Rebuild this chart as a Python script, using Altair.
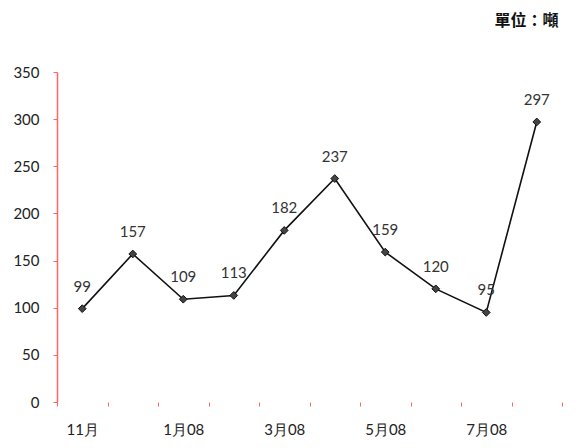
import altair as alt
import pandas as pd

months = ["11月", "12月", "1月08", "2月08", "3月08", "4月08", "5月08", "6月08", "7月08", "8月08"]
values = [99, 157, 109, 113, 182, 237, 159, 120, 95, 297]
shown_labels = ["11月", "1月08", "3月08", "5月08", "7月08"]

df = pd.DataFrame({"month": months, "value": values})

x_enc = alt.X(
    "month:N",
    sort=months,
    scale=alt.Scale(paddingInner=0, paddingOuter=0),
    axis=alt.Axis(
        title=None,
        labelAngle=0,
        tickBand="extent",
        domain=False,
        ticks=True,
        tickColor="#ff6666",
        tickSize=4,
        labelPadding=16,
        labelFont="Lato",
        labelFontSize=15,
        labelColor="#222222",
        labelExpr="indexof(" + str(shown_labels).replace("'", '"') + ", datum.label) >= 0 ? datum.label : ''",
    ),
)
y_enc = alt.Y(
    "value:Q",
    scale=alt.Scale(domain=[0, 350]),
    axis=alt.Axis(
        title=None,
        values=[0, 50, 100, 150, 200, 250, 300, 350],
        grid=False,
        domainColor="#ff6666",
        domainWidth=1.5,
        tickColor="#ff6666",
        tickSize=4,
        labelPadding=14,
        labelFont="Lato",
        labelFontSize=15,
        labelColor="#222222",
    ),
)

base = alt.Chart(df).encode(x=x_enc, y=y_enc)

line = base.mark_line(color="#111111", strokeWidth=1.6)
points = base.mark_point(shape="diamond", filled=True, size=60, color="#444444",
                         stroke="#111111", strokeWidth=1, opacity=1)
labels = base.mark_text(dy=-22, font="Lato", fontSize=15, color="#333333").encode(text="value:Q")

chart = (
    alt.layer(line, points, labels)
    .properties(
        width=505,
        height=330,
        autosize=alt.AutoSizeParams(type="none"),
        padding={"left": 49, "top": 64, "right": 14, "bottom": 36},
        title=alt.TitleParams(
            "單位：噸",
            anchor="end",
            font="Noto Sans CJK TC",
            fontSize=16,
            fontWeight="bold",
            color="#111111",
            offset=36,
            dx=-4,
        ),
    )
    .configure_view(stroke=None)
)

chart.save("out.html", embed_options={"renderer": "svg", "actions": False})
